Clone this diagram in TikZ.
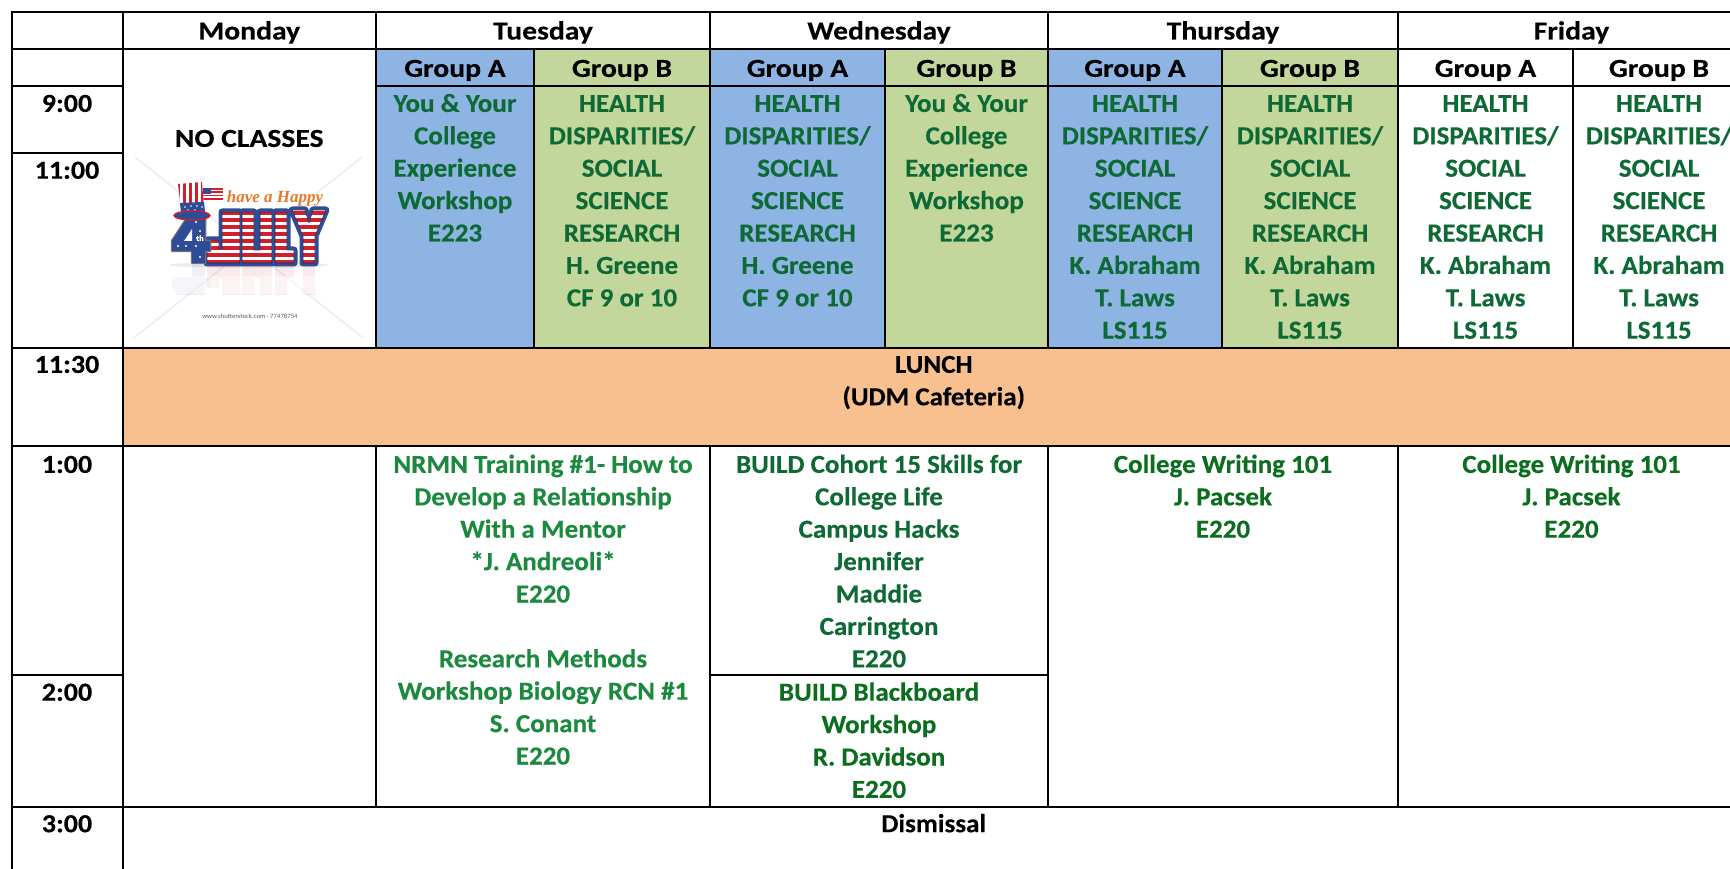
\documentclass[tikz,border=0pt]{standalone}
\usepackage{fontspec}
\setmainfont{Carlito}[FakeStretch=1.04, BoldFeatures={FakeBold=0.3}]
\newfontfamily\hdfont{Carlito}[FakeStretch=1.14, BoldFeatures={FakeBold=0.3}]
\newfontfamily\tmfont{Carlito}[FakeStretch=1.08, BoldFeatures={FakeBold=0.3}]
\newfontfamily\hapfont{Liberation Serif}
\definecolor{cblue}{HTML}{8EB4E3}
\definecolor{cgreen}{HTML}{C3D69B}
\definecolor{clunch}{HTML}{F8BF8F}
\definecolor{tg}{HTML}{0E6A35}
\definecolor{tgb}{HTML}{1C8A3E}
\definecolor{tgw}{HTML}{0A6E1E}
\definecolor{jred}{HTML}{D0202E}
\definecolor{jblue}{HTML}{2F4C97}
\definecolor{horange}{HTML}{E9782A}
\newcommand{\st}{\rule{0pt}{22pt}}
\tikzset{
  gridline/.style={line width=2pt, line cap=rect, black},
  txt/.style={inner sep=0pt, align=center, anchor=north, font=\fontsize{26}{32.4}\selectfont\bfseries},
  blk/.style={txt, text=black},
  hdr/.style={txt, text=black, font=\hdfont\fontsize{26}{32.4}\selectfont\bfseries},
  tim/.style={txt, text=black, font=\tmfont\fontsize{26}{32.4}\selectfont\bfseries},
  grn/.style={txt, text=tg},
  grnb/.style={txt, text=tgb},
  grnw/.style={txt, text=tgw},
  wm/.style={line width=1.5pt, black!7},
  letters/.style={insert path={
    (222,212) -- (240,212) -- (240,263) -- (207,263) -- (207,240) -- (219,240) -- (219,249) -- (222,249) -- cycle
    (242,212) -- (254,212) -- (254,250) -- (260,250) -- (260,212) -- (272,212) -- (272,263) -- (242,263) -- cycle
    (275,212) -- (287,212) -- (287,250) -- (294,250) -- (294,263) -- (275,263) -- cycle
    (292,210) -- (305,210) -- (309,223) -- (313,210) -- (326,210) -- (315,236) -- (315,263) -- (303,263) -- (303,236) -- cycle}},
  four/.style={insert path={
    (189,215) -- (205,215) -- (205,241) -- (210,241) -- (210,251) -- (205,251) -- (205,263) -- (192,263) -- (192,251) -- (172,251) -- (172,241) -- cycle}}
}
\begin{document}
\begin{tikzpicture}[x=1pt,y=-1pt]
\useasboundingbox (0,0) rectangle (1730,869);
\clip (0,0) rectangle (1730,869);
\fill[white] (0,0) rectangle (1730,869);

% ---------- cell fills ----------
\fill[cblue]  (376,49.3) rectangle (534,347.5);
\fill[cgreen] (534,49.3) rectangle (710,347.5);
\fill[cblue]  (710,49.3) rectangle (885,347.5);
\fill[cgreen] (885,49.3) rectangle (1048,347.5);
\fill[cblue]  (1048,49.3) rectangle (1222,347.5);
\fill[cgreen] (1222,49.3) rectangle (1398,347.5);
\fill[clunch] (122.5,347.5) rectangle (1745,446);

% ---------- July clip art ----------
\draw[wm] (135,157) -- (362,337);
\draw[wm] (362,157) -- (135,337);
\fill[black!12, opacity=0.6] (249,265) ellipse [x radius=80, y radius=3];
\begin{scope}
  \clip (165,265) rectangle (330,294);
  \begin{scope}[shift={(0,528)}, yscale=-1]
    \fill[jred, opacity=0.09, letters];
    \fill[jblue, opacity=0.08, four];
  \end{scope}
  \fill[white, opacity=0.45] (165,276) rectangle (330,294);
\end{scope}
\draw[jblue, line width=7pt, line join=round, letters];
\begin{scope}
  \clip[letters];
  \fill[white] (165,205) rectangle (330,266);
  \foreach \k in {0,...,7} \fill[jred] (165,{211+\k*7}) rectangle (330,{215+\k*7});
\end{scope}
\draw[jblue!60!black, line width=0.6pt, line join=round, letters];
\draw[black!55, line width=2.5pt, line join=round, four];
\fill[jblue, four];
\fill[white] (184,241) -- (192,241) -- (192,229) -- cycle;
\foreach \p in {(196,222),(200,231),(196,246),(200,257),(186,246),(178,246),(197,238)}
  \fill[white] \p circle (1.2);
\node[inner sep=0pt, anchor=base, font=\fontsize{8}{8}\selectfont\bfseries, text=white] (th) at (200,241) {th};
% flag
\begin{scope}
  \clip (203,188) rectangle (223,201);
  \fill[white] (203,188) rectangle (223,201);
  \foreach \k in {0,...,3} \fill[jred] (203,{188+\k*3.4}) rectangle (223,{189.7+\k*3.4});
  \fill[jblue] (203,188) rectangle (211,194);
\end{scope}
% hat
\begin{scope}
  \clip (178,184) -- (202,182) -- (204,208) -- (181,209) -- cycle;
  \fill[white] (175,180) rectangle (206,210);
  \foreach \k in {0,...,4} \fill[jred] ({177+\k*6},180) rectangle ({180+\k*6},210);
\end{scope}
\fill[jblue] (180,203) -- (204,202) -- (205,212) -- (181,213) -- cycle;
\foreach \p in {(185,207),(191,206),(197,206),(202,207),(188,210),(195,210)}
  \fill[white] \p circle (0.9);
\filldraw[fill=jblue, draw=jred, line width=1.3pt] (192,215.5) ellipse [x radius=18, y radius=4.5];
\node[inner sep=0pt, anchor=base, font=\hapfont\fontsize{17}{17}\selectfont\bfseries\itshape, text=horange] (hap) at (275,203) {have a Happy};
\node[inner sep=0pt, anchor=base, font=\fontsize{6.5}{6.5}\selectfont, text=black!65] (ss) at (250,318) {www.shutterstock.com · 77478754};

% ---------- grid lines ----------
\draw[gridline] (11.5,12) -- (1745,12);
\draw[gridline] (11.5,49.3) -- (1745,49.3);
\draw[gridline] (11.5,86.5) -- (122.5,86.5);
\draw[gridline] (376,86.5) -- (1745,86.5);
\draw[gridline] (11.5,153.5) -- (122.5,153.5);
\draw[gridline] (11.5,347.5) -- (1745,347.5);
\draw[gridline] (11.5,446) -- (1745,446);
\draw[gridline] (11.5,674.5) -- (122.5,674.5);
\draw[gridline] (710,674.5) -- (1048,674.5);
\draw[gridline] (11.5,807) -- (1745,807);
\draw[gridline] (11.5,12) -- (11.5,880);
\draw[gridline] (122.5,12) -- (122.5,880);
\foreach \xx in {376,710,1048,1398,1745} {
  \draw[gridline] (\xx,12) -- (\xx,347.5);
  \draw[gridline] (\xx,446) -- (\xx,807);
}
\foreach \xx in {534,885,1222,1573}
  \draw[gridline] (\xx,49.3) -- (\xx,347.5);

% ---------- header texts ----------
\node[hdr] (hmon) at (249.25,17.3) {\st Monday};
\node[hdr] (htue) at (543,17.3) {\st Tuesday};
\node[hdr] (hwed) at (879,17.3) {\st Wednesday};
\node[hdr] (hthu) at (1223,17.3) {\st Thursday};
\node[hdr] (hfri) at (1571.5,17.3) {\st Friday};
\node[hdr] (gta) at (455,54.7) {\st Group A};
\node[hdr] (gtb) at (622,54.7) {\st Group B};
\node[hdr] (gwa) at (797.5,54.7) {\st Group A};
\node[hdr] (gwb) at (966.5,54.7) {\st Group B};
\node[hdr] (gha) at (1135,54.7) {\st Group A};
\node[hdr] (ghb) at (1310,54.7) {\st Group B};
\node[hdr] (gfa) at (1485.5,54.7) {\st Group A};
\node[hdr] (gfb) at (1659,54.7) {\st Group B};

% ---------- times ----------
\node[tim] (t900) at (67,89.7) {\st 9:00};
\node[tim] (t1100) at (67,156.5) {\st 11:00};
\node[tim] (t1130) at (67,350.7) {\st 11:30};
\node[tim] (t100) at (67,450.7) {\st 1:00};
\node[tim] (t200) at (67,678.5) {\st 2:00};
\node[tim] (t300) at (67,810) {\st 3:00};

% ---------- morning ----------
\node[hdr] (nocl) at (249.25,124.7) {\st NO CLASSES};
\node[grn] (ta) at (455,89.7) {\st You \& Your\\College\\Experience\\Workshop\\E223};
\node[grn] (tb) at (622,89.7) {\st HEALTH\\DISPARITIES/\\SOCIAL\\SCIENCE\\RESEARCH\\H. Greene\\CF 9 or 10};
\node[grn] (wa) at (797.5,89.7) {\st HEALTH\\DISPARITIES/\\SOCIAL\\SCIENCE\\RESEARCH\\H. Greene\\CF 9 or 10};
\node[grn] (wb) at (966.5,89.7) {\st You \& Your\\College\\Experience\\Workshop\\E223};
\node[grn] (ha) at (1135,89.7) {\st HEALTH\\DISPARITIES/\\SOCIAL\\SCIENCE\\RESEARCH\\K. Abraham\\T. Laws\\LS115};
\node[grn] (hb) at (1310,89.7) {\st HEALTH\\DISPARITIES/\\SOCIAL\\SCIENCE\\RESEARCH\\K. Abraham\\T. Laws\\LS115};
\node[grn] (fa) at (1485.5,89.7) {\st HEALTH\\DISPARITIES/\\SOCIAL\\SCIENCE\\RESEARCH\\K. Abraham\\T. Laws\\LS115};
\node[grn] (fb) at (1659,89.7) {\st HEALTH\\DISPARITIES/\\SOCIAL\\SCIENCE\\RESEARCH\\K. Abraham\\T. Laws\\LS115};

% ---------- lunch ----------
\node[blk] (lunch) at (933.75,350.7) {\st LUNCH\\(UDM Cafeteria)};

% ---------- afternoon ----------
\node[grnb] (tpm) at (543,450.7) {\st NRMN Training \#1- How to\\Develop a Relationship\\With a Mentor\\*J. Andreoli*\\E220\\\mbox{}\\Research Methods\\Workshop Biology RCN \#1\\S. Conant\\E220};
\node[grn] (wpm) at (879,450.7) {\st BUILD Cohort 15 Skills for\\College Life\\Campus Hacks\\Jennifer\\Maddie\\Carrington\\E220};
\node[grnw] (wpm2) at (879,678.5) {\st BUILD Blackboard\\Workshop\\R. Davidson\\E220};
\node[grnw] (hpm) at (1223,450.7) {\st College Writing 101\\J. Pacsek\\E220};
\node[grnw] (fpm) at (1571.5,450.7) {\st College Writing 101\\J. Pacsek\\E220};

% ---------- dismissal ----------
\node[blk] (dism) at (933.75,810) {\st Dismissal};
\end{tikzpicture}
\end{document}
